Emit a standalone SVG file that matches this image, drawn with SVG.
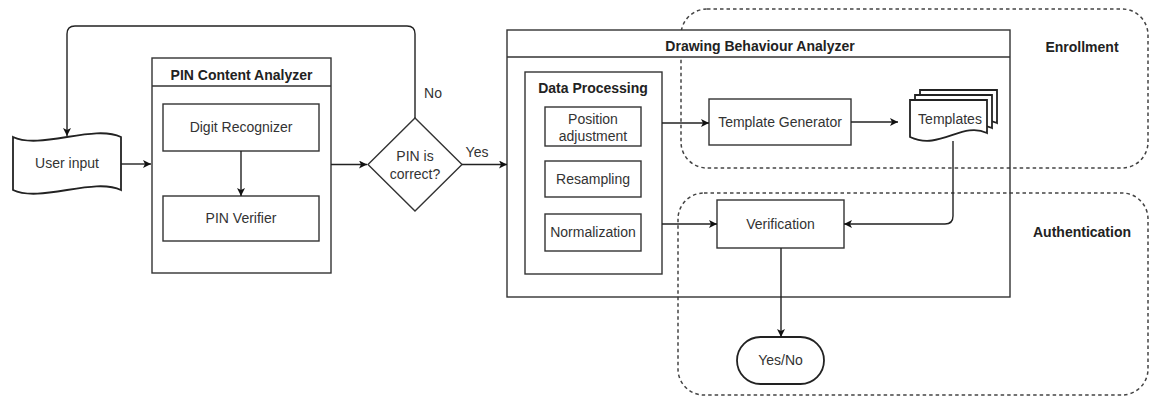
<svg xmlns="http://www.w3.org/2000/svg" width="1150" height="396" viewBox="0 0 1150 396">
<defs>
<marker id="arr" viewBox="0 0 10 10" refX="10" refY="5" markerWidth="8" markerHeight="8" markerUnits="userSpaceOnUse" orient="auto">
<path d="M0,0 L10,5 L0,10 L2.5,5 Z" fill="#111"/>
</marker>
<path id="doc" d="M0,0 H77 V33 C52,21 30,51 0,37 Z"/>
</defs>
<style>
.box{fill:#fff;stroke:#333;stroke-width:1.4}
.nofill{fill:none;stroke:#333;stroke-width:1.4}
.shape{fill:#fff;stroke:#222;stroke-width:1.8}
.region{fill:none;stroke:#444;stroke-width:1.5;stroke-dasharray:3.5,3}
.t{font-family:"Liberation Sans",Arial,sans-serif;font-size:14px;fill:#333;text-anchor:middle}
.b{font-family:"Liberation Sans",Arial,sans-serif;font-size:14px;font-weight:bold;fill:#222;text-anchor:middle}
.edge{fill:none;stroke:#222;stroke-width:1.4}
</style>
<rect width="1150" height="396" fill="#fff"/>

<g id="enrollment">
<rect class="region" x="681" y="9" width="467" height="159" rx="26" ry="26"/>
<text class="b" x="1082" y="52">Enrollment</text>
</g>
<g id="authentication">
<rect class="region" x="678" y="193" width="470" height="202" rx="26" ry="26"/>
<text class="b" x="1082" y="237">Authentication</text>
</g>

<g id="pin-content-analyzer">
<rect class="box" x="152" y="58" width="179" height="215"/>
<line class="nofill" x1="152" y1="86" x2="331" y2="86"/>
<text class="b" x="241.5" y="80">PIN Content Analyzer</text>
</g>
<g id="digit-recognizer">
<rect class="box" x="163" y="104" width="156" height="47"/>
<text class="t" x="241" y="132">Digit Recognizer</text>
</g>
<g id="pin-verifier">
<rect class="box" x="163" y="196" width="156" height="45"/>
<text class="t" x="241" y="223">PIN Verifier</text>
</g>

<g id="user-input">
<path class="shape" d="M13,137 C40,150 94,124 121,137 V190 C94,177 40,203 13,190 Z"/>
<text class="t" x="67" y="168">User input</text>
</g>

<g id="pin-correct">
<path class="box" d="M415,118 L462,164.5 L415,211 L368,164.5 Z"/>
<text class="t" x="415" y="161">PIN is</text>
<text class="t" x="415" y="179">correct?</text>
</g>

<g id="drawing-behaviour-analyzer">
<rect x="507" y="30" width="503" height="27" fill="#fff" stroke="none"/>
<rect class="nofill" x="507" y="30" width="503" height="267"/>
<line class="nofill" x1="507" y1="57" x2="1010" y2="57"/>
<text class="b" x="760" y="51">Drawing Behaviour Analyzer</text>
</g>
<g id="data-processing">
<rect class="box" x="525" y="72" width="137" height="202"/>
<text class="b" x="593" y="93">Data Processing</text>
</g>
<g id="position-adjustment">
<rect class="box" x="545" y="107" width="96" height="39"/>
<text class="t" x="593" y="124">Position</text>
<text class="t" x="593" y="141">adjustment</text>
</g>
<g id="resampling">
<rect class="box" x="545" y="161" width="96" height="36"/>
<text class="t" x="593" y="184">Resampling</text>
</g>
<g id="normalization">
<rect class="box" x="545" y="214" width="96" height="37"/>
<text class="t" x="593" y="237">Normalization</text>
</g>
<g id="template-generator">
<rect class="box" x="709" y="99" width="142" height="46"/>
<text class="t" x="780" y="127">Template Generator</text>
</g>
<g id="templates">
<use href="#doc" class="shape" x="920" y="90"/>
<use href="#doc" class="shape" x="915" y="95"/>
<use href="#doc" class="shape" x="910" y="100"/>
<text class="t" x="950" y="124">Templates</text>
</g>
<g id="verification">
<rect class="box" x="717" y="200" width="127" height="48"/>
<text class="t" x="780.5" y="229">Verification</text>
</g>
<g id="yes-no">
<rect class="shape" x="737" y="337" width="87" height="47" rx="23.5" ry="23.5"/>
<text class="t" x="780.5" y="365">Yes/No</text>
</g>

<g id="connectors">
<path class="edge" d="M415,118 V34 Q415,26 407,26 H75 Q67,26 67,34 V136" marker-end="url(#arr)"/>
<text class="t" x="433" y="98">No</text>
<path class="edge" d="M121,164 H151" marker-end="url(#arr)"/>
<path class="edge" d="M241,151 V196" marker-end="url(#arr)"/>
<path class="edge" d="M331,164.5 H367" marker-end="url(#arr)"/>
<path class="edge" d="M462,164.5 H507" marker-end="url(#arr)"/>
<text class="t" x="477" y="157">Yes</text>
<path class="edge" d="M662,123 H709" marker-end="url(#arr)"/>
<path class="edge" d="M851,122 H898" marker-end="url(#arr)"/>
<path class="edge" d="M953,141 V216 Q953,224 945,224 H844" marker-end="url(#arr)"/>
<path class="edge" d="M662,224 H717" marker-end="url(#arr)"/>
<path class="edge" d="M781,248 V337" marker-end="url(#arr)"/>
</g>
</svg>
